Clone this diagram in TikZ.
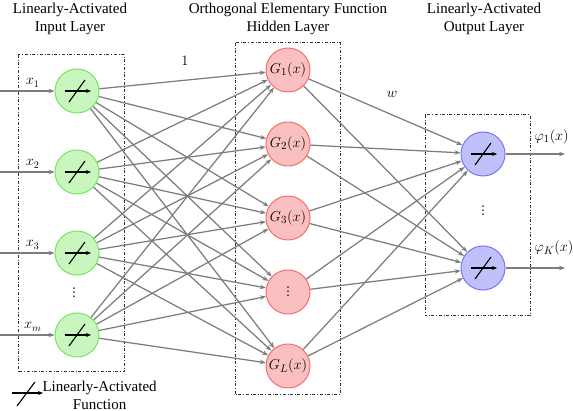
\documentclass[tikz,border=0pt]{standalone}
\usepackage{fontspec}
\setmainfont{Liberation Serif}
\newfontfamily\symfont{DejaVu Sans}
\usetikzlibrary{arrows.meta}
\definecolor{mygreen}{RGB}{120,228,100}
\definecolor{mygreenfill}{RGB}{200,246,190}
\definecolor{myred}{RGB}{244,110,110}
\definecolor{myredfill}{RGB}{250,192,192}
\definecolor{myblue}{RGB}{120,120,240}
\definecolor{mybluefill}{RGB}{192,192,250}
\definecolor{mygray}{RGB}{125,125,125}
\newcommand{\linsym}{%
    \draw[draw=black, -{Stealth[length=5pt,width=4pt]}, line width=1.1pt]
        ([xshift=-12pt]path picture bounding box.center) -- ++(26pt,0pt);
    \draw[draw=black, line width=1.1pt]
        ([shift={(-8pt,-11pt)}]path picture bounding box.center) -- ++(16pt,22pt);
}
\newcommand{\vdotsym}{{\symfont\fontsize{12}{14}\selectfont ⋮}}
\tikzset{
    neuron/.style={circle, draw, line width=1pt, minimum size=44pt, inner sep=0pt},
    inneuron/.style={neuron, draw=mygreen, fill=mygreenfill, path picture={\linsym}},
    hidneuron/.style={neuron, draw=myred, fill=myredfill},
    outneuron/.style={neuron, draw=myblue, fill=mybluefill, path picture={\linsym}},
    link/.style={draw=mygray, line width=1.25pt, -{Stealth[length=6pt,width=4.5pt]}},
    layerbox/.style={draw=black!80, dash dot, line width=1pt},
    title/.style={align=center, font=\fontsize{15}{18}\selectfont},
    lbl/.style={font=\fontsize{14}{16}\selectfont},
    hlbl/.style={font=\fontsize{15}{17}\selectfont}
}

\begin{document}
\begin{tikzpicture}[x=1pt, y=-1pt]
    \useasboundingbox (0,0) rectangle (573,411);

    % layer boxes
    \draw[layerbox] (18,55) rectangle (124,372);
    \draw[layerbox] (235,43) rectangle (340,395);
    \draw[layerbox] (425,115) rectangle (530,316);

    % titles
    \node[title] (tin) at (70,19) {Linearly-Activated\\Input Layer};
    \node[title] (thid) at (288,19) {Orthogonal Elementary Function\\Hidden Layer};
    \node[title] (tout) at (484,19) {Linearly-Activated\\Output Layer};

    % input layer
    \node[inneuron] (I1) at (77,91) {};
    \node[inneuron] (I2) at (77,172) {};
    \node[inneuron] (I3) at (77,253) {};
    \node[inneuron] (I4) at (77,335) {};
    \node (idots) at (74,293) {\vdotsym};

    \coordinate (s1) at (0,91);
    \coordinate (s2) at (0,172);
    \coordinate (s3) at (0,253);
    \coordinate (s4) at (0,335);
    \draw[link] (s1) -- node[above, lbl, pos=0.6] {$x_1$} (I1);
    \draw[link] (s2) -- node[above, lbl, pos=0.6] {$x_2$} (I2);
    \draw[link] (s3) -- node[above, lbl, pos=0.6] {$x_3$} (I3);
    \draw[link] (s4) -- node[above, lbl, pos=0.6] {$x_m$} (I4);

    % hidden layer
    \node[hidneuron, hlbl] (H1) at (288,70) {$G_1(x)$};
    \node[hidneuron, hlbl] (H2) at (288,144) {$G_2(x)$};
    \node[hidneuron, hlbl] (H3) at (288,218) {$G_3(x)$};
    \node[hidneuron] (H4) at (288,292) {\vdotsym};
    \node[hidneuron, hlbl] (H5) at (288,366) {$G_L(x)$};

    % output layer
    \node[outneuron] (O1) at (483,154) {};
    \node[outneuron] (O2) at (483,268) {};
    \node (odots) at (483,211) {\vdotsym};

    \coordinate (e1) at (565,154);
    \coordinate (e2) at (565,268);
    \draw[link] (O1) -- (e1);
    \draw[link] (O2) -- (e2);
    \node[hlbl, anchor=west] (phi1) at (531,137) {$\varphi_1(x)$};
    \node[hlbl, anchor=west] (phiK) at (531,248) {$\varphi_K(x)$};

    % connections
    \foreach \i in {1,...,4}
        \foreach \j in {1,...,5}
            \draw[link] (I\i) -- (H\j);
    \foreach \j in {1,...,5}
        \foreach \k in {1,2}
            \draw[link] (H\j) -- (O\k);

    \node[lbl] (one) at (185,61) {$1$};
    \node[hlbl] (wt) at (392,94) {$w$};

    % legend
    \coordinate (la) at (12,393);
    \coordinate (lb) at (43,393);
    \draw[-{Stealth[length=5pt,width=4pt]}, line width=1.1pt] (la) -- (lb);
    \draw[line width=1.1pt] (17,406) -- (35,382);
    \node[title, anchor=west] (legend) at (39,395) {Linearly-Activated\\Function};
\end{tikzpicture}
\end{document}
